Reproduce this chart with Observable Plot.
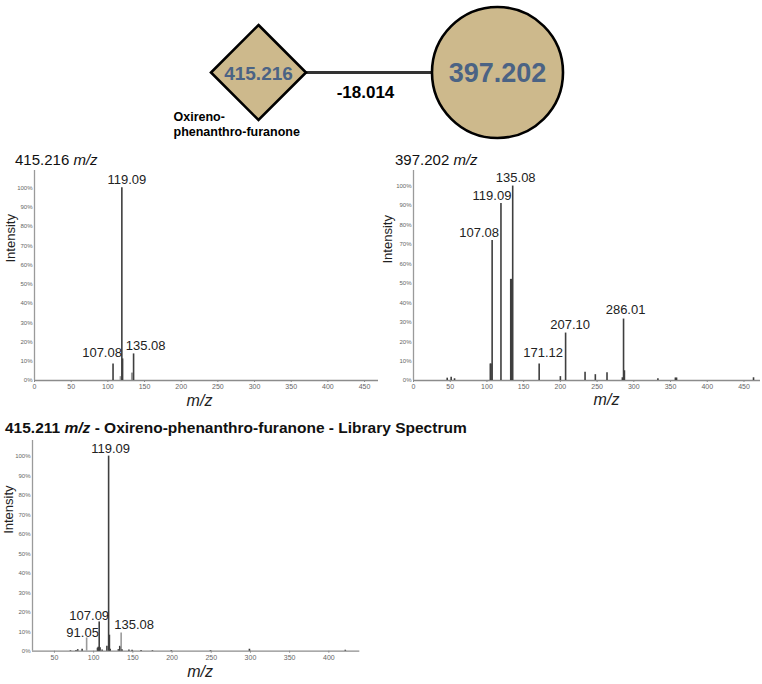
<!DOCTYPE html>
<html><head><meta charset="utf-8">
<script src="https://cdn.jsdelivr.net/npm/d3@7"></script>
<script src="https://cdn.jsdelivr.net/npm/@observablehq/plot@0.6"></script>
<style>
body{margin:0;background:#fff;font-family:"Liberation Sans",Arial,Helvetica,sans-serif;}
#fig{position:relative;width:762px;height:684px;overflow:hidden;background:#fff;}
.abs{position:absolute;line-height:1;white-space:nowrap;color:#111;}
.abs svg{display:block;overflow:visible;}
</style></head><body><div id="fig"></div>
<script>
// ---------- DATA ----------
const nodeIds = ["415.216", "397.202"];
const nodeNames = ["Oxireno-\nphenanthro-furanone", ""];
const edgeSource = ["415.216"];
const edgeTarget = ["397.202"];
const edgeLabel = ["-18.014"];

const yTicks = [0, 10, 20, 30, 40, 50, 60, 70, 80, 90, 100];
const xTicksTop = [0, 50, 100, 150, 200, 250, 300, 350, 400, 450];
const xTicksLib = [50, 100, 150, 200, 250, 300, 350, 400];

// Spectrum 1: 415.216 m/z
const s1Mz  = [107.08, 117.1, 119.09, 120.1, 132.6, 133.4, 135.08];
const s1Int = [8.6, 2.0, 100, 11.2, 3.8, 3.8, 13.8];
const s1Labels = [107.08, 119.09, 135.08];

// Spectrum 2: 397.202 m/z
const s2Mz  = [45.9, 51.3, 55.9, 104.6, 105.6, 107.08, 119.09, 132.4, 133.4, 135.08, 171.12, 200.0, 207.10, 233.6, 247.6, 263.5, 284.4, 286.01, 287.2, 332.8, 356.6, 358.2, 463.0];
const s2Int = [1.2, 1.7, 0.9, 8.5, 8.5, 72, 91, 52, 52, 100, 8.5, 2.0, 24.4, 4.3, 3.0, 4.0, 1.4, 31.6, 5.0, 0.9, 1.3, 1.3, 1.4];
const s2Labels = [107.08, 119.09, 135.08, 171.12, 207.10, 286.01];

// Spectrum 3: 415.211 m/z library spectrum
const s3Mz  = [70.4, 77.5, 79.7, 85.3, 91.05, 104.9, 105.8, 107.09, 108.2, 110.8, 116.9, 119.09, 120.1, 121.1, 131.5, 133.3, 134.2, 135.08, 136.2, 145.0, 149.0, 160.5, 175.0, 199.0, 249.0, 298.7, 421.0];
const s3Int = [0.3, 0.4, 0.8, 1.0, 6.8, 1.5, 2.0, 15.0, 1.8, 0.6, 2.6, 100, 8.2, 1.0, 0.8, 2.5, 2.0, 9.3, 0.8, 0.6, 0.5, 0.4, 0.3, 0.3, 0.3, 1.0, 0.5];
const s3Labels = [91.05, 107.09, 119.09, 135.08];

// ---------- STYLE ----------
const FONT = "Liberation Sans, Arial, Helvetica, sans-serif";
const NODE_FILL = "#cdb98c";
const NODE_TEXT = "#4b6384";
const fig = document.getElementById("fig");
function place(el, left, top) {
  const w = document.createElement("div");
  w.className = "abs";
  w.style.left = left + "px";
  w.style.top = top + "px";
  if (typeof el === "string") w.innerHTML = el; else w.appendChild(el);
  fig.appendChild(w);
  return w;
}

// ---------- NETWORK ----------
const nodes = nodeIds.map((id, i) => ({id, name: nodeNames[i], row: "net"}));
const edges = edgeSource.map((s, i) => ({source: s, target: edgeTarget[i], label: edgeLabel[i], row: "net"}));
const net = Plot.plot({
  width: 762, height: 140,
  marginLeft: 258, marginRight: 264.5, marginTop: 3, marginBottom: 0,
  style: {fontFamily: FONT, background: "transparent"},
  x: {type: "point", domain: nodeIds, padding: 0, axis: null},
  y: {type: "point", domain: ["net"], axis: null},
  marks: [
    Plot.link(edges, {x1: "source", x2: "target", y1: "row", y2: "row", stroke: "#333", strokeWidth: 3}),
    Plot.dot(nodes.filter((d, i) => i === 0), {x: "id", y: "row", symbol: "diamond2", r: 42.8, fill: NODE_FILL, stroke: "#000", strokeWidth: 2.6}),
    Plot.dot(nodes.filter((d, i) => i === 1), {x: "id", y: "row", symbol: "circle", r: 65.5, fill: NODE_FILL, stroke: "#000", strokeWidth: 2.6}),
    Plot.text(nodes.filter((d, i) => i === 0), {x: "id", y: "row", text: "id", fill: NODE_TEXT, fontWeight: "bold", fontSize: 19, dy: 1}),
    Plot.text(nodes.filter((d, i) => i === 1), {x: "id", y: "row", text: "id", fill: NODE_TEXT, fontWeight: "bold", fontSize: 27, dy: 1}),
    Plot.text(nodes.filter(d => d.name), {x: "id", y: "row", text: "name", fill: "#000", fontWeight: "bold", fontSize: 12.5, textAnchor: "start", lineAnchor: "top", lineHeight: 1.15, dx: -85, dy: 38.5}),
    Plot.text(edges, {x: "source", y: "row", text: "label", fill: "#000", fontWeight: "bold", fontSize: 17, dx: 107, dy: 20})
  ]
});
place(net, 0, 0);

// ---------- SPECTRA ----------
function spectrum(cfg) {
  const idx = d3.range(cfg.mz.length);
  const lab = cfg.labels.map(m => ({mz: m, int: cfg.int[cfg.mz.indexOf(m)], text: m.toFixed(2)}));
  const labelMarks = lab.map(d => Plot.text([d], {x: "mz", y: "int", text: "text", fontSize: 13, fill: "#222",
    lineAnchor: "bottom", dx: cfg.off[d.text][0], dy: cfg.off[d.text][1]}));
  return Plot.plot({
    width: cfg.width, height: cfg.height,
    marginLeft: cfg.ml, marginRight: cfg.mr, marginTop: cfg.mt, marginBottom: cfg.mb,
    style: {fontFamily: FONT, background: "transparent", overflow: "visible"},
    x: {domain: cfg.xDomain},
    y: {domain: cfg.yDomain},
    marks: [
      Plot.axisY({ticks: yTicks, tickFormat: d => d + "%", tickSize: 0, tickPadding: 2, fontSize: 6, fill: "#666", label: null}),
      Plot.axisX({ticks: cfg.xTicks, tickSize: 2, tickPadding: 2, fontSize: 7, fill: "#666", stroke: "#888", label: null}),
      Plot.ruleY([0], {x1: cfg.xDomain[0], x2: cfg.xDomain[1], stroke: "#8c8c8c", strokeWidth: 1.3}),
      Plot.ruleX([cfg.xDomain[0]], {y1: cfg.yDomain[0], y2: cfg.yDomain[1], stroke: "#9a9a9a", strokeWidth: 1.3}),
      Plot.ruleX(idx, {x: i => cfg.mz[i], y1: 0, y2: i => cfg.int[i],
        stroke: i => (cfg.light.has(cfg.mz[i]) ? "#9a9a9a" : "#3f3f3f"), strokeWidth: 1.6}),
      ...labelMarks,
      Plot.text(["Intensity"], {frameAnchor: "left", rotate: -90, fontSize: 13, fill: "#222", dx: cfg.intDx, dy: cfg.intDy}),
      Plot.text(["m/z"], {frameAnchor: "bottom", fontSize: 16, fontStyle: "italic", fill: "#222", dx: cfg.mzDx, dy: cfg.mzDy})
    ]
  });
}

const s1 = spectrum({
  mz: s1Mz, int: s1Int, labels: s1Labels, light: new Set([117.1, 132.6, 133.4]),
  width: 380, height: 268, ml: 34, mr: 2, mt: 20, mb: 38,
  xDomain: [0, 469], yDomain: [0, 109], xTicks: xTicksTop,
  off: {"107.08": [-11, -7], "119.09": [5, -4], "135.08": [12, -4]},
  intDx: -24, intDy: -13, mzDx: -7, mzDy: 25
});
place(s1, 0, 150);

const s2 = spectrum({
  mz: s2Mz, int: s2Int, labels: s2Labels, light: new Set([]),
  width: 382, height: 268, ml: 33, mr: 2, mt: 20, mb: 38,
  xDomain: [0, 472.5], yDomain: [0, 108], xTicks: xTicksTop,
  off: {"107.08": [-13, -4], "119.09": [-9, -4], "135.08": [3, -4], "171.12": [4, -7], "207.10": [4.5, -4], "286.01": [2, -5]},
  intDx: -26, intDy: -12, mzDx: 19.5, mzDy: 24.5
});
place(s2, 380, 150);

const s3 = spectrum({
  mz: s3Mz, int: s3Int, labels: s3Labels, light: new Set([91.05, 135.08]),
  width: 380, height: 264, ml: 32, mr: 20.7, mt: 20, mb: 33.3,
  xDomain: [22, 439.5], yDomain: [0, 108], xTicks: xTicksLib,
  off: {"91.05": [-4, -1], "107.09": [-10, -2], "119.09": [2, -3], "135.08": [13, -4]},
  intDx: -24, intDy: -12, mzDx: 4, mzDy: 26
});
place(s3, 0, 420);

// ---------- TITLES ----------
place('415.216 <i>m/z</i>', 15, 152).style.fontSize = "15px";
place('397.202 <i>m/z</i>', 395, 152).style.fontSize = "15px";
const t3 = place('<b>415.211 <i>m/z</i> - Oxireno-phenanthro-furanone - Library Spectrum</b>', 5, 420);
t3.style.fontSize = "15.5px";
</script>
</body></html>
